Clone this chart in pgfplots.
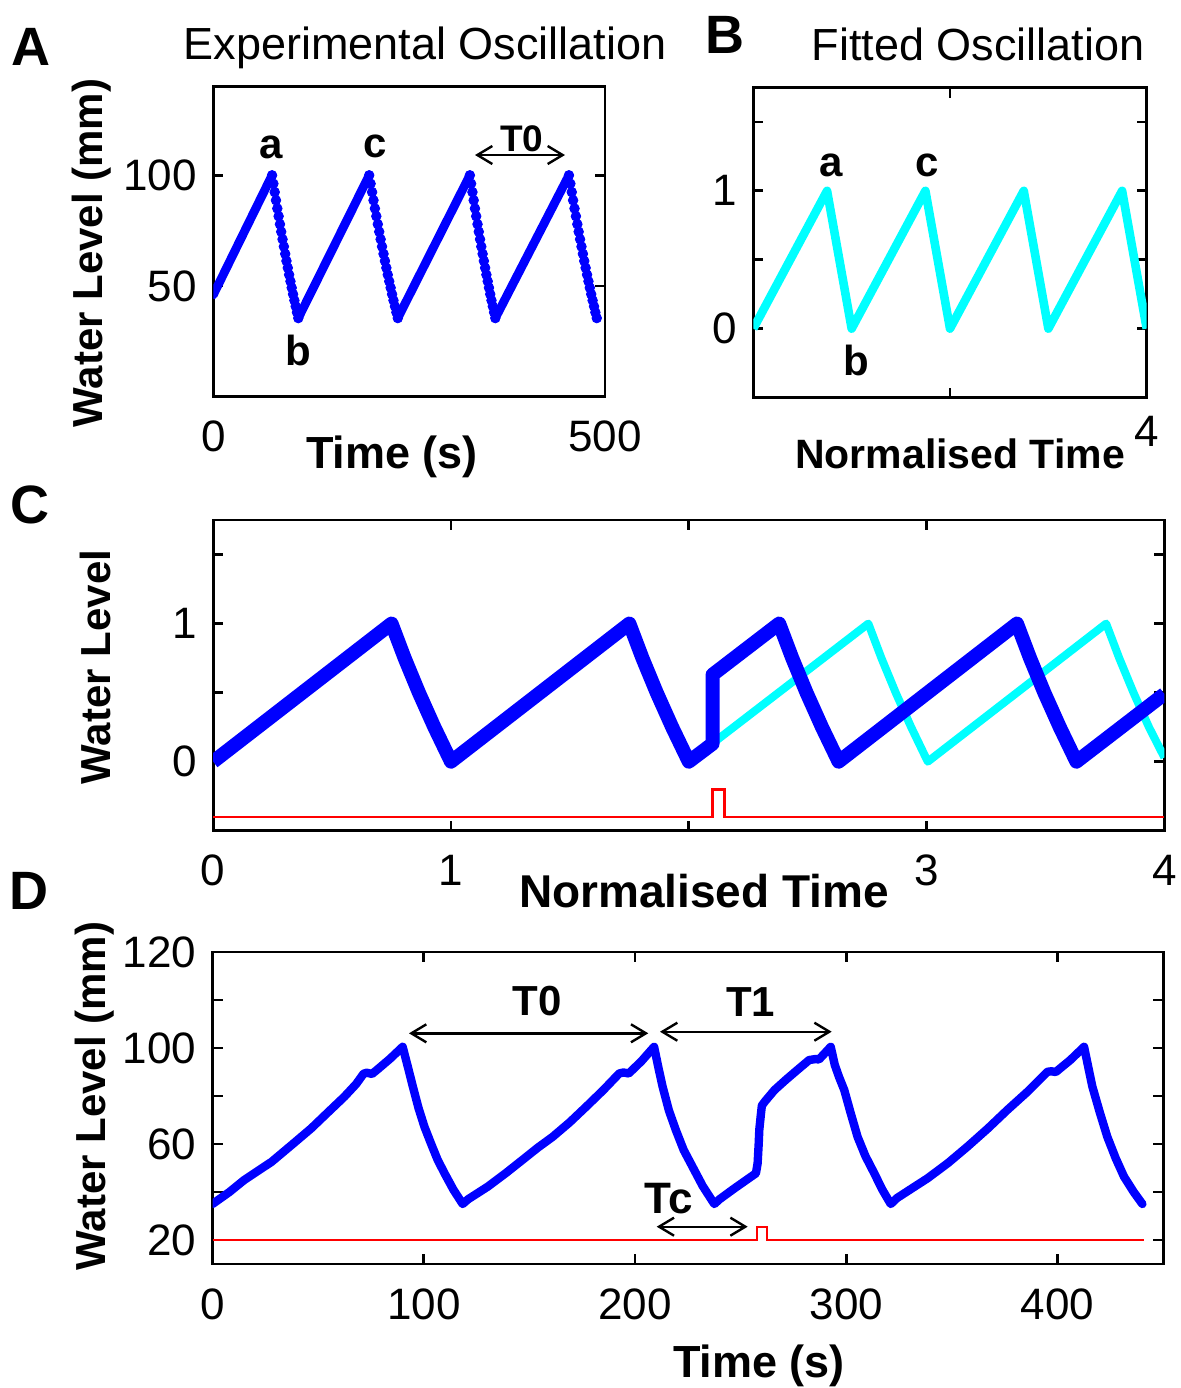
\documentclass[border=0pt]{standalone}
\usepackage{fontspec}
\setmainfont{Liberation Sans}
\usepackage{pgfplots}
\pgfplotsset{compat=1.18}
\usetikzlibrary{arrows.meta}
\definecolor{mblue}{RGB}{0,0,255}
\definecolor{mcyan}{RGB}{0,255,255}
\definecolor{mred}{RGB}{255,0,0}
\pgfplotsset{
  panel/.style={
    scale only axis, anchor=south west,
    axis line style={line width=1.4pt},
    tick style={line width=1.4pt, black},
    major tick length=5pt, tick align=inside,
    /pgf/number format/assume math mode=true,
    tick label style={font=\fontsize{22}{26}\selectfont},
    xticklabel style={anchor=center, yshift=-20pt},
    yticklabel style={anchor=east, inner sep=0pt, xshift=-8pt},
  }
}
\tikzset{dar/.style={line width=1.2pt, {Straight Barb[length=7.5pt,width=9pt]}-{Straight Barb[length=7.5pt,width=9pt]}}}
\begin{document}
\begin{tikzpicture}
\path[use as bounding box] (0,0) rectangle (590pt,-694pt);

% ---------- A ----------
\begin{axis}[panel, at={(106.65pt,-198.35pt)}, width=195.85pt, height=155pt,
  xmin=0, xmax=500, ymin=0, ymax=140,
  xtick={0,500}, xticklabels={0,500}, ytick={50,100}, yticklabels={50,100}]
\addplot[mblue, line width=4.4pt, line cap=round] coordinates {(0,46)(75,100)};
\addplot[mblue, line width=4.4pt, line cap=round] coordinates {(108.5,35.5)(199,100)};
\addplot[mblue, line width=4.4pt, line cap=round] coordinates {(235.5,35.5)(327.5,100)};
\addplot[mblue, line width=4.4pt, line cap=round] coordinates {(360,35.5)(454,100)};
\addplot[only marks, mark=*, mark size=2.4pt, mblue] coordinates {
(75,100)(76.7,96.2)(78.4,92.4)(80.0,88.7)(81.7,85.0)(83.4,81.5)(85.1,77.9)(86.7,74.5)(88.4,71.1)(90.1,67.8)(91.8,64.5)
(93.4,61.3)(95.1,58.2)(96.8,55.1)(98.5,52.1)(100.1,49.2)(101.8,46.3)(103.5,43.5)(105.2,40.8)(106.8,38.1)(108.5,35.5)
(199,100)(200.8,96.2)(202.7,92.4)(204.5,88.7)(206.3,85.0)(208.1,81.5)(210.0,77.9)(211.8,74.5)(213.6,71.1)(215.4,67.8)(217.3,64.5)
(219.1,61.3)(220.9,58.2)(222.7,55.1)(224.6,52.1)(226.4,49.2)(228.2,46.3)(230.0,43.5)(231.9,40.8)(233.7,38.1)(235.5,35.5)
(327.5,100)(329.1,96.2)(330.8,92.4)(332.4,88.7)(334.0,85.0)(335.6,81.5)(337.3,77.9)(338.9,74.5)(340.5,71.1)(342.1,67.8)(343.8,64.5)
(345.4,61.3)(347.0,58.2)(348.6,55.1)(350.3,52.1)(351.9,49.2)(353.5,46.3)(355.1,43.5)(356.8,40.8)(358.4,38.1)(360,35.5)
(454,100)(455.8,96.2)(457.6,92.4)(459.3,88.7)(461.1,85.0)(462.9,81.5)(464.7,77.9)(466.4,74.5)(468.2,71.1)(470.0,67.8)(471.8,64.5)
(473.5,61.3)(475.3,58.2)(477.1,55.1)(478.9,52.1)(480.6,49.2)(482.4,46.3)(484.2,43.5)(486.0,40.8)(487.7,38.1)(489.5,35.5)};
\end{axis}

% ---------- B ----------
\begin{axis}[panel, at={(376.65pt,-198.75pt)}, width=196.7pt, height=155pt,
  xmin=0, xmax=4, ymin=-0.5, ymax=1.75,
  xtick={0,2,4}, xticklabels={,,4}, ytick={0,0.5,1,1.5}, yticklabels={0,,1,},
  xticklabel style={yshift=3pt}]
\addplot[mcyan, line width=4.3pt, line join=round] coordinates {
(0,0)(0.75,1)(1,0)(1.75,1)(2,0)(2.75,1)(3,0)(3.75,1)(4,0)};
\end{axis}

% ---------- C ----------
\begin{axis}[panel, at={(106.6pt,-415.35pt)}, width=475.6pt, height=155.35pt,
  xmin=0, xmax=4, ymin=-0.5, ymax=1.75,
  xtick={0,1,2,3,4}, xticklabels={0,1,,3,4}, ytick={0,0.5,1,1.5}, yticklabels={0,,1,}]
\addplot[mcyan, line width=4pt, line join=round] coordinates {
(2.0,0)(2.755,1)(2.81,0.75)(2.87,0.5)(2.935,0.25)(3.005,0)(3.755,1)(3.81,0.75)(3.87,0.5)(3.935,0.25)(4.0,0.03)};
\addplot[mblue, line width=7pt, line join=round] coordinates {
(0,0)(0.75,1)(0.805,0.75)(0.865,0.5)(0.93,0.25)(1.0,0)
(1.75,1)(1.805,0.75)(1.865,0.5)(1.93,0.25)(2.0,0)
(2.1,0.13)(2.1,0.63)(2.38,1.0)(2.435,0.75)(2.495,0.5)(2.56,0.25)(2.63,0)
(3.38,1)(3.435,0.75)(3.495,0.5)(3.56,0.25)(3.63,0)(4.0,0.49)};
\addplot[mred, line width=1.4pt] coordinates {
(0,-0.4)(2.098,-0.4)(2.098,-0.2)(2.151,-0.2)(2.151,-0.4)(4,-0.4)};
\end{axis}

% ---------- D ----------
\begin{axis}[panel, at={(106.25pt,-632pt)}, width=475.4pt, height=156pt,
  xmin=0, xmax=450, ymin=10, ymax=140,
  xtick={0,100,200,300,400}, xticklabels={0,100,200,300,400},
  ytick={20,40,60,80,100,120,140}, yticklabels={20,,60,,100,,120}]
\addplot[mred, line width=1.3pt] coordinates {
(0,20)(257.7,20)(257.7,25.5)(262.4,25.5)(262.4,20)(441,20)};
\addplot[mblue, line width=4.2pt, line join=round, line cap=round] coordinates {
(0,35)(8,40)(15,45)(28,52.6)(38,60)(46.7,66.5)(55,73.5)(62.4,79.7)(68,85)(71.5,89.3)(73,89.7)(75.5,89.2)(78,91)(84,95.5)(90,100.5)
(92.5,92)(94.8,84)(97.5,75)(100.3,67.2)(103.5,60)(106.6,53.3)(110,47.5)(114,41)(118.4,35)
(121,37)(130.2,42.2)(139,48)(147.6,54)(154,58.5)(161,63)(169,69)(176.8,75.5)(185,82.5)(192.5,89.4)(194.5,89.8)(197,89.4)(203,94.5)(209,100.5)
(211,92)(213,84)(216,74)(219.3,65.8)(223,57.5)(227.2,50.5)(232,42.5)(237.5,35)
(240,37)(247,41.5)(257.2,47.8)(258,52)(258.5,60)(258.8,66)(259.5,72)(260,76)(261.5,77.8)(266,82.5)(271.3,86.7)(277,91)(282.4,95)(285.5,95.4)(287,95.2)(292.6,100.5)
(294.5,93)(296.5,88)(299,82.5)(302,73)(305.3,63)(309,55)(313.2,47.8)(317,41)(321,35)
(324,37.5)(331,41.5)(338.4,45.7)(348,52)(357.3,58.9)(367,66.5)(376.2,74.2)(386,82)(395.2,90.1)(397,90.3)(399.1,90)(406,95)(412.5,100.5)
(414.5,92)(416.4,84)(420,73)(423.5,63)(427.5,54)(431.4,46.4)(436,40)(440.1,35)};
\end{axis}

% ---------- texts and annotations (pixel coordinates) ----------
\begin{scope}[x=0.5pt,y=-0.5pt]
\node[anchor=base, inner sep=0pt, font=\fontsize{22.5}{27}\selectfont] at (425,59) {Experimental Oscillation};
\node[anchor=base, inner sep=0pt, font=\fontsize{22.5}{27}\selectfont] at (978,60) {Fitted Oscillation};
\node[anchor=base west, inner sep=0pt, font=\bfseries\fontsize{27}{31}\selectfont] at (11,65) {A};
\node[anchor=base west, inner sep=0pt, font=\bfseries\fontsize{27}{31}\selectfont] at (705,53.3) {B};
\node[anchor=base west, inner sep=0pt, font=\bfseries\fontsize{27}{31}\selectfont] at (10,523) {C};
\node[anchor=base west, inner sep=0pt, font=\bfseries\fontsize{27}{31}\selectfont] at (9,909) {D};
\node[anchor=base, inner sep=0pt, font=\bfseries\fontsize{22.5}{27}\selectfont] at (392,468) {Time (s)};
\node[anchor=base, inner sep=0pt, font=\bfseries\fontsize{20.5}{25}\selectfont] at (960,468) {Normalised Time};
\node[anchor=base, inner sep=0pt, font=\bfseries\fontsize{23}{27}\selectfont] at (704,907) {Normalised Time};
\node[anchor=base, inner sep=0pt, font=\bfseries\fontsize{22.5}{27}\selectfont] at (759,1377) {Time (s)};
\node[rotate=90, inner sep=0pt, font=\bfseries\fontsize{21}{25}\selectfont] at (91.5,253) {Water Level (mm)};
\node[rotate=90, inner sep=0pt, font=\bfseries\fontsize{21}{25}\selectfont] at (95.6,667) {Water Level};
\node[rotate=90, inner sep=0pt, font=\bfseries\fontsize{21}{25}\selectfont] at (94.7,1096) {Water Level (mm)};
% A annotations
\node[anchor=base, inner sep=0pt, font=\bfseries\fontsize{21}{25}\selectfont] at (271.5,158) {a};
\node[anchor=base, inner sep=0pt, font=\bfseries\fontsize{21}{25}\selectfont] at (375,157) {c};
\node[anchor=base, inner sep=0pt, font=\bfseries\fontsize{21}{25}\selectfont] at (298.5,365) {b};
\node[anchor=base, inner sep=0pt, font=\bfseries\fontsize{18.5}{22}\selectfont] at (521.7,151.7) {T0};
\draw[dar] (475,155) -- (565,155);
% B annotations
\node[anchor=base, inner sep=0pt, font=\bfseries\fontsize{21}{25}\selectfont] at (830.8,176.7) {a};
\node[anchor=base, inner sep=0pt, font=\bfseries\fontsize{21}{25}\selectfont] at (927,176.7) {c};
\node[anchor=base, inner sep=0pt, font=\bfseries\fontsize{21}{25}\selectfont] at (856.7,375) {b};
% D annotations
\node[anchor=base, inner sep=0pt, font=\bfseries\fontsize{21}{25}\selectfont] at (537,1015) {T0};
\node[anchor=base, inner sep=0pt, font=\bfseries\fontsize{21}{25}\selectfont] at (750.8,1016) {T1};
\node[anchor=base, inner sep=0pt, font=\bfseries\fontsize{22}{26}\selectfont] at (669,1213) {Tc};
\draw[dar] (409,1033.3) -- (648.3,1033.3);
\draw[dar] (660,1031.7) -- (831.7,1031.7);
\draw[dar] (656.7,1226.7) -- (747.7,1226.7);
\end{scope}
\end{tikzpicture}
\end{document}
